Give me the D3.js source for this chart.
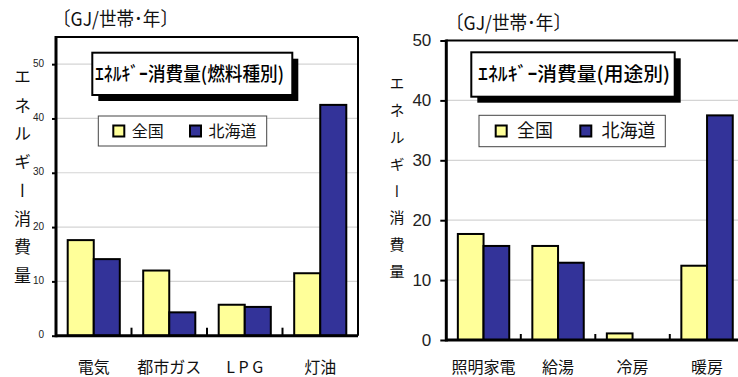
<!DOCTYPE html>
<html>
<head>
<meta charset="utf-8">
<script src="https://cdn.jsdelivr.net/npm/d3@7"></script>
<style>
  html, body { margin: 0; padding: 0; background: #fff; }
  svg { display: block; }
</style>
</head>
<body>
<script>
// Household energy consumption (GJ per household per year)
const seriesNames = ["全国", "北海道"];
const seriesColors = ["#FFFF99", "#333399"];

const fuelCategories = ["電気", "都市ガス", "L P G", "灯油"];
const fuelNational = [17.6, 12.0, 5.7, 11.5];
const fuelHokkaido = [14.1, 4.3, 5.3, 42.5];
const fuelTicks = [0, 10, 20, 30, 40, 50];

const useCategories = ["照明家電", "給湯", "冷房", "暖房"];
const useNational = [17.7, 15.7, 1.1, 12.4];
const useHokkaido = [15.7, 12.9, 0, 37.5];
const useTicks = [0, 10, 20, 30, 40, 50];

const unitLabel = "〔GJ/世帯･年〕";
const yAxisTitle = "エネルギー消費量";
const fuelTitle = "ｴﾈﾙｷﾞｰ消費量(燃料種別)";
const useTitle = "ｴﾈﾙｷﾞｰ消費量(用途別)";

const JP = "'Noto Sans CJK JP', 'Noto Sans', sans-serif";
const NUM = "'Liberation Sans', Arial, sans-serif";

const svg = d3.select("body").append("svg")
  .attr("width", 738).attr("height", 377);

function drawPanel(p) {
  const g = svg.append("g");
  const x0 = d3.scaleBand().domain(p.categories).range([p.left, p.right]);
  const pad = x0.bandwidth() * 0.155;
  const x1 = d3.scaleBand().domain(seriesNames).range([pad, x0.bandwidth() - pad]);
  const y = d3.scaleLinear().domain([0, p.yMax]).range([p.bottom, p.top]);

  // grid
  g.append("g").selectAll("line").data(p.ticks.filter(t => t > 0 && t < p.yMax))
    .join("line")
    .attr("x1", p.left).attr("x2", p.right)
    .attr("y1", d => y(d)).attr("y2", d => y(d))
    .attr("stroke", "#d4d4d4").attr("stroke-width", 1.2);

  // bars
  const rows = p.categories.map((c, i) => ({ c, vals: [p.national[i], p.hokkaido[i]] }));
  g.append("g").selectAll("g").data(rows).join("g")
    .attr("transform", d => `translate(${x0(d.c)},0)`)
    .selectAll("rect")
    .data(d => d.vals.map((v, k) => ({ s: seriesNames[k], v, k })).filter(e => e.v > 0))
    .join("rect")
    .attr("x", d => x1(d.s)).attr("width", x1.bandwidth())
    .attr("y", d => y(d.v)).attr("height", d => y(0) - y(d.v))
    .attr("fill", d => seriesColors[d.k])
    .attr("stroke", "#000").attr("stroke-width", 2);

  // y axis
  const yAxis = d3.axisLeft(y).tickValues(p.ticks).tickSize(p.tickSize).tickPadding(p.tickPad);
  const ya = g.append("g").attr("transform", `translate(${p.left},0)`).call(yAxis);
  ya.select(".domain").remove();
  ya.selectAll(".tick line").attr("stroke", "#000").attr("stroke-width", 2);
  ya.selectAll(".tick text").attr("font-family", NUM).attr("font-size", p.tickFont)
    .attr("fill", "#222").attr("dy", p.tickDy);

  // category boundary marks on the x axis
  g.append("g").selectAll("line").data(p.categories.slice(1)).join("line")
    .attr("x1", d => x0(d)).attr("x2", d => x0(d))
    .attr("y1", p.bottom).attr("y2", p.bottom - p.catTick)
    .attr("stroke", "#000").attr("stroke-width", 2);

  // x labels
  const xAxis = d3.axisBottom(x0).tickSize(0).tickPadding(0);
  const xa = g.append("g").attr("transform", `translate(0,${p.labelY})`).call(xAxis);
  xa.select(".domain").remove();
  xa.selectAll(".tick text").attr("font-family", JP).attr("font-size", 16)
    .attr("fill", "#111").attr("dy", "0.35em");

  // frame
  g.append("line").attr("x1", p.left).attr("x2", p.right).attr("y1", p.top).attr("y2", p.top)
    .attr("stroke", "#000").attr("stroke-width", 2);
  g.append("line").attr("x1", p.right).attr("x2", p.right).attr("y1", p.top).attr("y2", p.bottom)
    .attr("stroke", "#000").attr("stroke-width", 2);
  g.append("line").attr("x1", p.left).attr("x2", p.left).attr("y1", p.top - 1).attr("y2", p.bottom + 1.5)
    .attr("stroke", "#000").attr("stroke-width", 3);
  g.append("line").attr("x1", p.left).attr("x2", p.right).attr("y1", p.bottom).attr("y2", p.bottom)
    .attr("stroke", "#000").attr("stroke-width", 3);

  // unit label
  g.append("text").attr("x", p.unitX).attr("y", p.unitY)
    .attr("font-family", JP).attr("font-size", 19).attr("fill", "#111")
    .attr("textLength", 125).attr("lengthAdjust", "spacingAndGlyphs")
    .text(unitLabel);

  // vertical axis title
  g.append("text").attr("x", p.vX).attr("y", p.vY)
    .attr("writing-mode", "tb")
    .style("writing-mode", "vertical-rl")
    .attr("font-family", JP).attr("font-size", p.vFont)
    .attr("letter-spacing", p.vSpacing).attr("fill", "#111")
    .text(yAxisTitle);

  // title box with drop shadow
  const tb = p.titleBox;
  g.append("rect").attr("x", tb.x + 6).attr("y", tb.y + 6).attr("width", tb.w).attr("height", tb.h)
    .attr("fill", "#000");
  g.append("rect").attr("x", tb.x).attr("y", tb.y).attr("width", tb.w).attr("height", tb.h)
    .attr("fill", "#fff").attr("stroke", "#000").attr("stroke-width", 2);
  g.append("text").attr("x", tb.tx).attr("y", tb.y + tb.h / 2)
    .attr("dy", "0.36em")
    .attr("font-family", JP).attr("font-size", 19).attr("font-weight", 500).attr("fill", "#000")
    .attr("textLength", tb.tw).attr("lengthAdjust", "spacingAndGlyphs")
    .text(p.title);

  // legend
  const lg = p.legend;
  g.append("rect").attr("x", lg.x).attr("y", lg.y).attr("width", lg.w).attr("height", lg.h)
    .attr("fill", "#fff").attr("stroke", "#444").attr("stroke-width", 1);
  const items = g.append("g").selectAll("g").data(seriesNames).join("g")
    .attr("transform", (d, i) => `translate(${lg.sx[i]},${lg.y + lg.h / 2})`);
  items.append("rect").attr("x", 0).attr("y", -5.5).attr("width", 11).attr("height", 11)
    .attr("fill", (d, i) => seriesColors[i]).attr("stroke", "#000").attr("stroke-width", 2);
  items.append("text").attr("x", lg.gap).attr("dy", "0.36em")
    .attr("font-family", JP).attr("font-size", lg.font).attr("fill", "#111")
    .text(d => d);
}

drawPanel({
  categories: fuelCategories, national: fuelNational, hokkaido: fuelHokkaido, ticks: fuelTicks,
  left: 56, right: 358, top: 37, bottom: 335.7, yMax: 55,
  tickSize: 4, tickPad: 8, tickFont: 10, tickDy: "0.2em",
  catTick: 8, labelY: 367,
  unitX: 53, unitY: 26,
  vX: 22.5, vY: 68.5, vFont: 17, vSpacing: 11.3,
  title: fuelTitle,
  titleBox: { x: 92.3, y: 52.7, w: 200, h: 42.3, tx: 95, tw: 189 },
  legend: { x: 98.3, y: 116, w: 168.4, h: 30, sx: [113.3, 190], gap: 18.4, font: 16 }
});

drawPanel({
  categories: useCategories, national: useNational, hokkaido: useHokkaido, ticks: useTicks,
  left: 446.3, right: 744.3, top: 40.5, bottom: 340, yMax: 50,
  tickSize: 6, tickPad: 9, tickFont: 17, tickDy: "0.32em",
  catTick: 6, labelY: 367,
  unitX: 446, unitY: 30,
  vX: 397, vY: 75.8, vFont: 15, vSpacing: 11.9,
  title: useTitle,
  titleBox: { x: 471.3, y: 52.3, w: 203.4, h: 44.4, tx: 478, tw: 192 },
  legend: { x: 479, y: 115.3, w: 186.3, h: 31.4, sx: [495.7, 580.3], gap: 21.3, font: 18 }
});
</script>
</body>
</html>
